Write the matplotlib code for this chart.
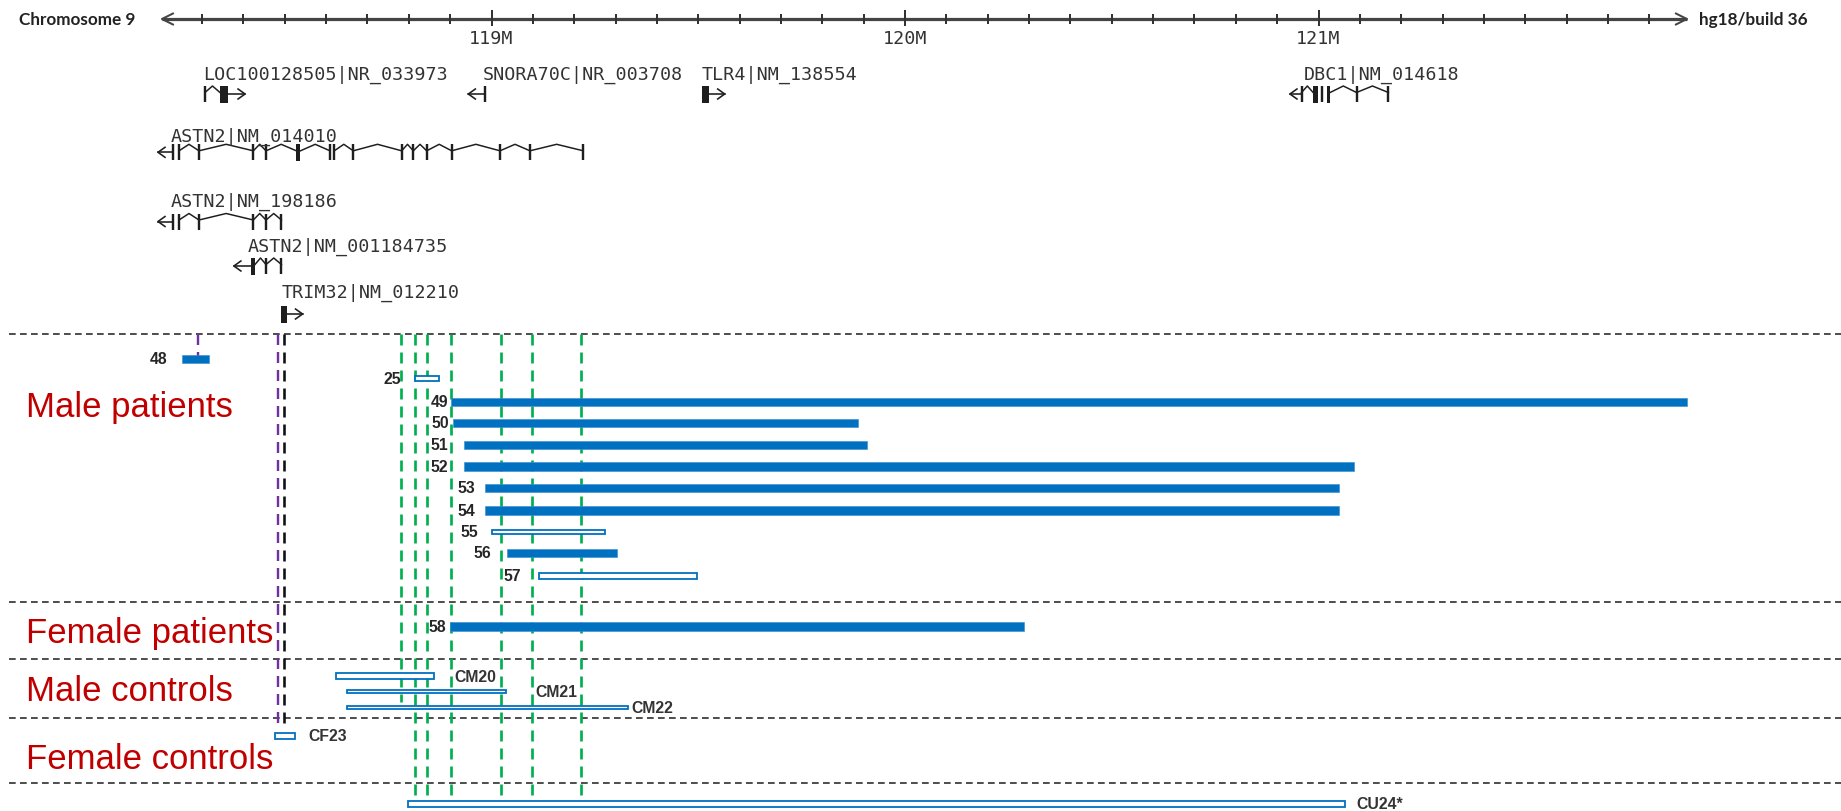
import numpy as np
import matplotlib
matplotlib.use("Agg")
import matplotlib.pyplot as plt
from matplotlib.patches import Rectangle

plt.rcParams["lines.scale_dashes"] = False

# ---------------- data (positions in Mb on chromosome 9, hg18) ----------------
chrom_label = "Chromosome 9"
build_label = "hg18/build 36"
ruler_range = (118.203, 121.891)
minor_ticks = np.round(np.arange(118.3, 121.81, 0.1), 1)
major_ticks = [119.0, 120.0, 121.0]
major_tick_labels = ["119M", "120M", "121M"]

gene_names = ["LOC100128505|NR_033973", "SNORA70C|NR_003708", "TLR4|NM_138554",
              "DBC1|NM_014618", "ASTN2|NM_014010", "ASTN2|NM_198186",
              "ASTN2|NM_001184735", "TRIM32|NM_012210"]
gene_strands = ["+", "-", "+", "-", "-", "-", "-", "+"]
gene_exons = [
    [118.307],
    [118.984],
    [],
    [120.959, 121.008, 121.092, 121.169],
    [118.2305, 118.2443, 118.2926, 118.4240, 118.4547, 118.6094, 118.6198,
     118.6658, 118.7828, 118.8109, 118.8433, 118.9037, 119.0206, 119.0931, 119.2220],
    [118.2305, 118.2443, 118.2926, 118.4240, 118.4547, 118.4920],
    [118.4547, 118.4920],
    [],
]
gene_blocks = [
    [(118.3434, 118.3635)],
    [],
    [(119.509, 119.525)],
    [(120.987, 120.999), (121.020, 121.028)],
    [(118.528, 118.538)],
    [],
    [(118.418, 118.428)],
    [(118.4921, 118.5047)],
]
gene_tips = [118.404, 118.944, 119.564, 120.931, 118.1935, 118.1935, 118.377, 118.543]

sample_ids = ["48", "25", "49", "50", "51", "52", "53", "54", "55", "56", "57",
              "58", "CM20", "CM21", "CM22", "CF23", "CU24*"]
cnv_start = [118.2515, 118.812, 118.902, 118.907, 118.934, 118.934, 118.985, 118.985,
             118.999, 119.037, 119.112, 118.900, 118.622, 118.648, 118.648, 118.475, 118.796]
cnv_end = [118.316, 118.875, 121.891, 119.887, 119.907, 121.086, 121.049, 121.049,
           119.276, 119.303, 119.498, 120.287, 118.864, 119.037, 119.332, 118.526, 121.067]
cnv_filled = [True, False, True, True, True, True, True, True,
              False, True, False, True, False, False, False, False, False]

group_names = ["Male patients", "Female patients", "Male controls", "Female controls"]

green_breaks = [118.780, 118.8145, 118.845, 118.902, 119.023, 119.097, 119.217]
purple_breaks = [118.290, 118.4825]
black_breaks = [118.499]

# ---------------- layout (pixels) ----------------
W, H, DPI = 1841, 812, 100
PT = 72.0 / DPI                  # points per pixel
MB_PER_PX = 1 / 413.5


def X(px):
    return 119.0 + (px - 491.5) * MB_PER_PX


ruler_y = 20
gene_label_px = [203.6, 483, 702, 1304, 170.8, 170.8, 248, 281.5]
gene_label_base = [79.5, 79.5, 79.5, 79.5, 141.5, 206.5, 251.5, 298]
gene_glyph_y = [95, 95, 95, 95, 153.3, 222.5, 267, 315]

row_y = [360, 379.5, 403, 424, 446, 467.5, 489, 511.5, 532.8, 554, 576.7,
         627.5, 677.2, 692.5, 708.5, 737, 805]
row_h = [8, 7.5, 8.3, 8.3, 8.3, 8.3, 8.3, 8.3, 6, 8.3, 7.8,
         8.3, 7.5, 5.5, 5.5, 7, 7]
# label offsets (px) from bar start (negative, patients) or bar end (controls)
label_off = [-14.6, -12.8, -2.2, -4.3, -16.3, -16, -10, -10, -13.3, -15.7, -16.6,
             -3.6, 18.7, 29, 3, 12.5, 10]

sep_y = [334.5, 603, 659.5, 718.5, 783.5]
group_base = [417, 643, 701, 769]

blue = "#0070C0"
green = "#00B050"
purple = "#7030A0"
red = "#C00000"
ink = "#262626"

fig = plt.figure(figsize=(W / DPI, H / DPI), dpi=DPI)
ax = fig.add_axes([0, 0, 1, 1])
ax.set_xlim(X(0), X(W))
ax.set_ylim(H, 0)
ax.axis("off")

# ---------------- ruler ----------------
r0, r1 = ruler_range
ruler_col = "#444444"
ax.plot([r0, r1], [ruler_y, ruler_y], color=ruler_col, lw=3.2 * PT, solid_capstyle="butt")
ah_w, ah_h = 11 * MB_PER_PX, 5.5
ax.plot([r0 + ah_w, r0, r0 + ah_w], [ruler_y - ah_h, ruler_y, ruler_y + ah_h],
        color=ruler_col, lw=2.0 * PT)
ax.plot([r1 - ah_w, r1, r1 - ah_w], [ruler_y - ah_h, ruler_y, ruler_y + ah_h],
        color=ruler_col, lw=2.0 * PT)
for t in minor_ticks:
    if any(abs(t - m) < 1e-6 for m in major_ticks):
        continue
    ax.plot([t, t], [ruler_y - 4.5, ruler_y + 3.5], color="#333333", lw=2.0 * PT)
for t, lab in zip(major_ticks, major_tick_labels):
    ax.plot([t, t], [ruler_y - 8, ruler_y + 5.5], color="#333333", lw=2.0 * PT)
    ax.text(t, 44.5, lab, ha="center", va="baseline", family="DejaVu Sans Mono",
            fontsize=13.2, color="#333333")

ax.text(X(19), ruler_y, chrom_label, ha="left", va="center", family="Lato",
        fontweight="bold", fontsize=12.3, color="#222222")
ax.text(X(1699), ruler_y, build_label, ha="left", va="center", family="Lato",
        fontweight="bold", fontsize=12.3, color="#222222")

# ---------------- gene models ----------------
gene_col = "#1e1e1e"
for name, strand, exons, blocks, tip, lx, lb, gy in zip(
        gene_names, gene_strands, gene_exons, gene_blocks, gene_tips,
        gene_label_px, gene_label_base, gene_glyph_y):
    ax.text(X(lx), lb, name, ha="left", va="baseline", family="DejaVu Sans Mono",
            fontsize=13.2, color="#333333")
    feats = [(e, e) for e in exons] + list(blocks)
    feats.sort()
    for e in exons:
        ax.plot([e, e], [gy - 8, gy + 8], color=gene_col, lw=2.4 * PT, solid_capstyle="butt")
    for b0, b1 in blocks:
        ax.add_patch(Rectangle((b0, gy - 8.5), b1 - b0, 17, color=gene_col, lw=0))
    # introns drawn as carets between neighbouring exons
    for (a0, a1), (b0, b1) in zip(feats[:-1], feats[1:]):
        if (b0 - a1) / MB_PER_PX < 8:
            continue
        mid = (a1 + b0) / 2
        ax.plot([a1, mid, b0], [gy - 1.5, gy - 8, gy - 1.5], color=gene_col, lw=1.5 * PT)
    # strand arrow
    aw = 7 * MB_PER_PX
    if strand == "-":
        start = feats[0][0]
        ax.plot([tip, start], [gy, gy], color=gene_col, lw=1.6 * PT)
        ax.plot([tip + aw, tip, tip + aw], [gy - 5, gy, gy + 5], color=gene_col, lw=1.6 * PT)
    else:
        end = feats[-1][1]
        ax.plot([end, tip], [gy, gy], color=gene_col, lw=1.6 * PT)
        ax.plot([tip - aw, tip, tip - aw], [gy - 5, gy, gy + 5], color=gene_col, lw=1.6 * PT)

# ---------------- group separators ----------------
for y in sep_y:
    ax.plot([X(9), X(W)], [y, y], color="#333333", lw=1.7 * PT,
            dashes=(6.7 * PT, 4.3 * PT))

# ---------------- breakpoint guide lines ----------------
vdash = (11 * PT, 7 * PT)
ax.plot([purple_breaks[0]] * 2, [sep_y[0], 364], color=purple, lw=2.4 * PT, dashes=vdash)
ax.plot([purple_breaks[1]] * 2, [sep_y[0], 731], color=purple, lw=2.4 * PT, dashes=vdash)
ax.plot([black_breaks[0]] * 2, [sep_y[0], 731], color="#111111", lw=2.6 * PT, dashes=vdash)
for i, g in enumerate(green_breaks):
    bottom = 703 if i == 0 else 806
    ax.plot([g, g], [sep_y[0], bottom], color=green, lw=2.7 * PT, dashes=vdash)

# ---------------- CNV bars ----------------
lw_box = 1.8
for sid, s, e, filled, y, h, off in zip(sample_ids, cnv_start, cnv_end, cnv_filled,
                                         row_y, row_h, label_off):
    if filled:
        ax.barh(y, e - s, left=s, height=h, color=blue, edgecolor="#3d8fd1",
                linewidth=0.6 * PT, zorder=3)
    else:
        ax.barh(y, e - s - lw_box * MB_PER_PX, left=s + lw_box / 2 * MB_PER_PX,
                height=h - lw_box, facecolor="white", edgecolor=blue,
                linewidth=lw_box * PT, zorder=3)
    if off < 0:
        ax.annotate(sid, (s, y), xytext=(off, 0), textcoords="offset pixels",
                    ha="right", va="center", family="Liberation Sans",
                    fontweight="bold", fontsize=11.3, color=ink, zorder=4)
    else:
        ax.annotate(sid, (e, y), xytext=(off, 0), textcoords="offset pixels",
                    ha="left", va="center", family="Liberation Sans",
                    fontweight="bold", fontsize=11.3, color="#333333", zorder=4)

# ---------------- group labels ----------------
for name, yb in zip(group_names, group_base):
    ax.text(X(26), yb, name, ha="left", va="baseline", family="Liberation Sans",
            fontsize=25, color=red)

fig.savefig("out.png", dpi=DPI)
